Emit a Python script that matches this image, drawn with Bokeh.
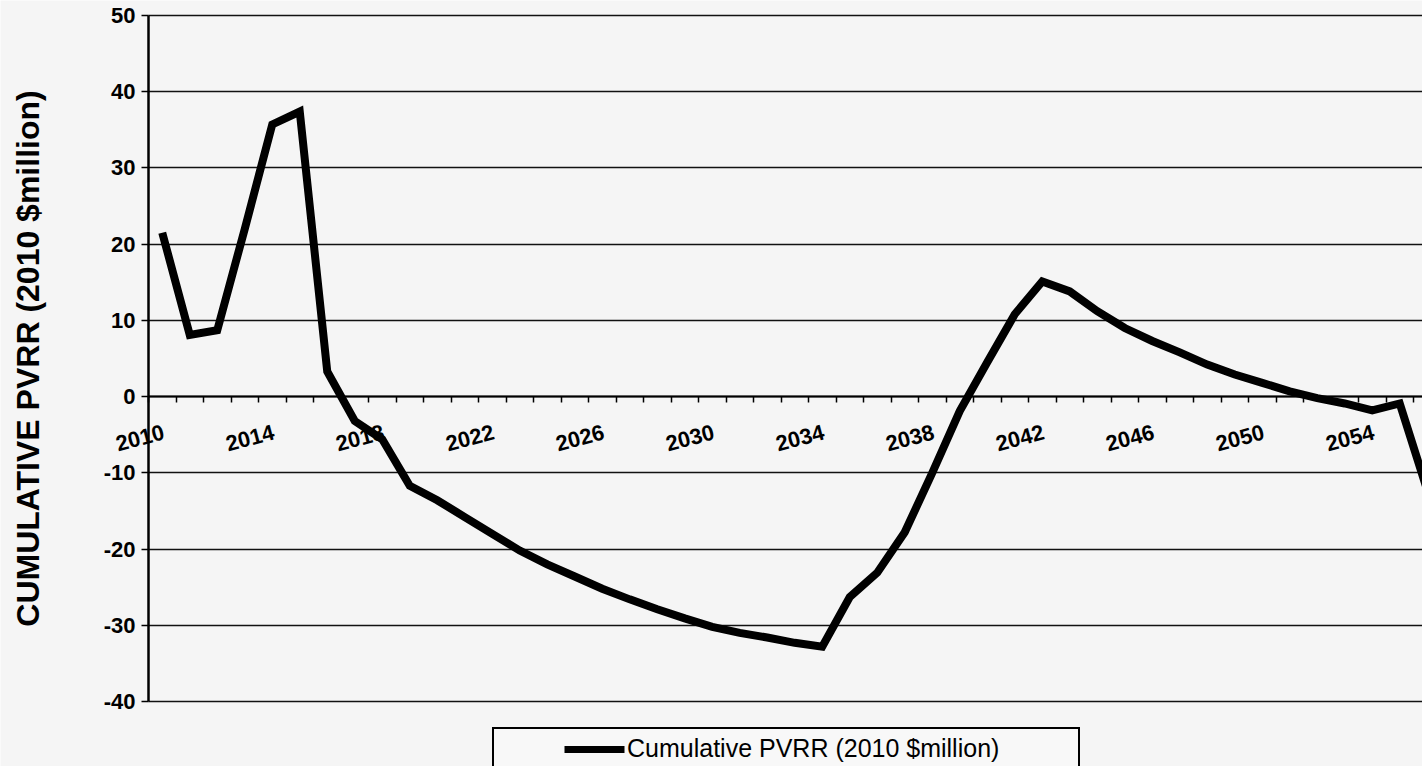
from bokeh.plotting import figure
from bokeh.models import LinearAxis, FixedTicker, Legend, LegendItem, Range1d
from bokeh.embed import file_html
from bokeh.resources import INLINE

# ---- data ----
years = list(range(2010, 2057))
pvrr = [21.5, 8.1, 8.7, 22.0, 35.7, 37.4, 3.3, -3.2, -5.6, -11.7,
        -13.6, -15.8, -18.0, -20.2, -22.0, -23.6, -25.2, -26.6, -27.9, -29.1,
        -30.2, -31.0, -31.6, -32.3, -32.8, -26.3, -23.1, -17.8, -10.0, -1.9,
        4.5, 10.8, 15.1, 13.8, 11.2, 9.0, 7.3, 5.8, 4.2, 2.9,
        1.8, 0.7, -0.2, -0.9, -1.8, -0.9, -12.3]
label_years = [2010, 2014, 2018, 2022, 2026, 2030, 2034, 2038, 2042, 2046, 2050, 2054]
y_ticks = [-40, -30, -20, -10, 0, 10, 20, 30, 40, 50]
series_name = "Cumulative PVRR (2010 $million)"
y_title = "CUMULATIVE PVRR (2010 $million)"

FONT = "Liberation Sans"
BG = "#f5f5f5"

W, H = 1422, 766
axis_px = 148            # canvas x of the value axis
px_year = 27.5
y_top_px, y_bot_px = 15, 701
px_unit = (y_bot_px - y_top_px) / (y_ticks[-1] - y_ticks[0])
x0 = years[0] - 0.5
x_start = x0 - axis_px / px_year
x_end = x0 + (W - axis_px) / px_year
y_start = y_ticks[0] - (H - y_bot_px) / px_unit
y_end = y_ticks[-1] + y_top_px / px_unit

p = figure(width=W, height=H, output_backend="svg", toolbar_location=None,
           x_range=Range1d(x_start, x_end), y_range=Range1d(y_start, y_end),
           x_axis_location=None,
           min_border_left=0, min_border_right=0, min_border_top=0, min_border_bottom=0)
p.background_fill_color = BG
p.border_fill_color = BG
p.outline_line_color = None

# value axis, placed at the first category boundary
yax = p.yaxis[0]
yax.fixed_location = x0
yax.bounds = (y_ticks[0], y_ticks[-1])
yax.ticker = FixedTicker(ticks=y_ticks)
yax.major_label_overrides = {t: str(t) for t in y_ticks}
yax.major_label_text_font = FONT
yax.major_label_text_font_style = "bold"
yax.major_label_text_font_size = "22px"
yax.major_label_text_color = "black"
yax.major_label_standoff = 6
yax.major_tick_out = 7
yax.major_tick_in = 0
yax.major_tick_line_width = 1.5
yax.major_tick_line_color = "black"
yax.minor_tick_line_color = None
yax.axis_line_width = 2.5
yax.axis_line_color = "black"
yax.axis_label = y_title
yax.axis_label_text_font = FONT
yax.axis_label_text_font_style = "bold"
yax.axis_label_text_font_size = "32px"
yax.axis_label_text_color = "black"
yax.axis_label_standoff = 55

p.ygrid.ticker = FixedTicker(ticks=y_ticks)
p.ygrid.grid_line_color = "#111111"
p.ygrid.grid_line_width = 1.5
p.ygrid.cross_bounds = (x0, x_end)
p.xgrid.visible = False

# category axis at zero: tick marks between categories
bounds = [y - 0.5 for y in years] + [years[-1] + 0.5]
tick_axis = LinearAxis(ticker=FixedTicker(ticks=bounds), fixed_location=0, bounds=(x0, x_end),
                       major_label_overrides={b: "" for b in bounds},
                       major_tick_out=6, major_tick_in=0, major_tick_line_width=1.5,
                       minor_tick_line_color=None, axis_line_width=2, axis_line_color="black")
label_pos = [y + 0.05 for y in label_years]   # rotated label ends sit at the category
label_axis = LinearAxis(ticker=FixedTicker(ticks=label_pos), fixed_location=0,
                        major_label_overrides={pos: str(y) for pos, y in zip(label_pos, label_years)},
                        axis_line_color=None, major_tick_line_color=None, minor_tick_line_color=None,
                        major_label_orientation=0.26, major_label_standoff=29,
                        major_label_text_font=FONT, major_label_text_font_style="bold",
                        major_label_text_font_size="22px", major_label_text_color="black")
p.add_layout(tick_axis, "below")
p.add_layout(label_axis, "below")

# data line
p.line(years, pvrr, line_width=8, line_color="black", line_join="miter")

# legend key: hidden copy of the series styled with a leading gap
sample = p.line(years, pvrr, line_width=7, line_color="black", line_dash="0 65 60 400",
                visible=False)
legend = Legend(items=[LegendItem(label=series_name, renderers=[sample])],
                location=(492, -4), padding=5, spacing=0, margin=0,
                glyph_width=126, glyph_height=28, label_height=28, label_width=446,
                label_standoff=2, label_text_font=FONT, label_text_font_size="25px",
                label_text_color="black",
                inactive_fill_alpha=0,
                border_line_color="black", border_line_width=2, border_line_alpha=1,
                background_fill_color="#f8f8f8", background_fill_alpha=1)
p.add_layout(legend)

open("out.html", "w").write(file_html(p, INLINE))
